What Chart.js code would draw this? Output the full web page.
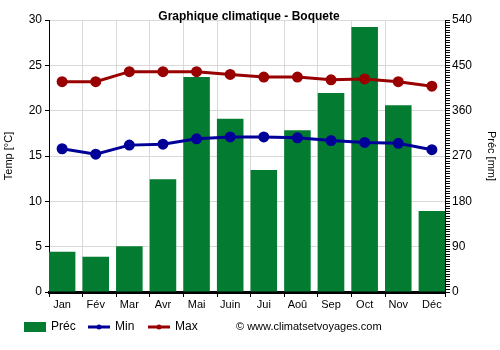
<!DOCTYPE html>
<html>
<head>
<meta charset="utf-8">
<script src="https://cdn.jsdelivr.net/npm/chart.js@4"></script>
<style>
  html, body { margin: 0; padding: 0; background: #fff; }
  #wrap { width: 500px; height: 350px; }
</style>
</head>
<body>
<div id="wrap"><canvas id="chart" width="500" height="350"></canvas></div>
<script>
  const months = ["Jan", "Fév", "Mar", "Avr", "Mai", "Juin", "Jui", "Aoû", "Sep", "Oct", "Nov", "Déc"];
  const precip = [80, 70, 91, 224, 427, 344, 242, 321, 395, 526, 371, 161];
  const tempMin = [15.8, 15.2, 16.2, 16.3, 16.9, 17.1, 17.1, 17.0, 16.7, 16.5, 16.4, 15.7];
  const tempMax = [23.2, 23.2, 24.3, 24.3, 24.3, 24.0, 23.7, 23.7, 23.4, 23.5, 23.2, 22.7];

  const FONT = "'Liberation Sans', Arial, sans-serif";
  const GREEN = "#037c32";
  const BLUE = "#000099";
  const RED = "#990000";

  // months sit on a numeric axis so the bars hug both side axes;
  // the grid axis is the same range shifted so its lines fall on each bar's left edge
  const X_PAD = 0.39;
  const X_MIN = -X_PAD;
  const X_MAX = months.length - 1 + X_PAD;

  const asPoints = (arr) => arr.map((v, i) => ({ x: i, y: v }));

  // Title, legend and site credit are drawn by hand under the plot
  const decorations = {
    id: "decorations",
    afterDraw(chart) {
      const ctx = chart.ctx;
      ctx.save();
      ctx.fillStyle = "#000";
      ctx.font = "bold 12px " + FONT;
      ctx.textAlign = "center";
      ctx.textBaseline = "middle";
      ctx.fillText("Graphique climatique - Boquete", 249, 17);

      ctx.textAlign = "left";
      ctx.font = "12px " + FONT;
      const y = 327;
      ctx.fillStyle = GREEN;
      ctx.fillRect(24, 322, 22, 10);
      ctx.fillStyle = "#000";
      ctx.fillText("Préc", 51, y);

      [[88, BLUE, "Min"], [148, RED, "Max"]].forEach(([x, col, txt]) => {
        ctx.strokeStyle = col;
        ctx.lineWidth = 3;
        ctx.beginPath();
        ctx.moveTo(x, y);
        ctx.lineTo(x + 22, y);
        ctx.stroke();
        ctx.fillStyle = col;
        ctx.beginPath();
        ctx.arc(x + 11, y, 2.5, 0, Math.PI * 2);
        ctx.fill();
        ctx.fillStyle = "#000";
        ctx.fillText(txt, x + 27, y);
      });

      ctx.font = "11px " + FONT;
      ctx.fillText("© www.climatsetvoyages.com", 236, y);
      ctx.restore();
    }
  };

  new Chart(document.getElementById("chart"), {
    data: {
      datasets: [
        {
          type: "line",
          label: "Max",
          data: asPoints(tempMax),
          xAxisID: "x",
          yAxisID: "y",
          borderColor: RED,
          backgroundColor: RED,
          borderWidth: 3,
          pointRadius: 4,
          pointHoverRadius: 4,
          tension: 0,
          order: 1
        },
        {
          type: "line",
          label: "Min",
          data: asPoints(tempMin),
          xAxisID: "x",
          yAxisID: "y",
          borderColor: BLUE,
          backgroundColor: BLUE,
          borderWidth: 3,
          pointRadius: 4,
          pointHoverRadius: 4,
          tension: 0,
          order: 2
        },
        {
          type: "bar",
          label: "Préc",
          data: asPoints(precip),
          xAxisID: "x",
          yAxisID: "y1",
          backgroundColor: GREEN,
          categoryPercentage: 1,
          barPercentage: 0.79,
          order: 3
        }
      ]
    },
    options: {
      responsive: false,
      animation: false,
      layout: { padding: { top: 20 } },
      plugins: {
        legend: { display: false },
        tooltip: { enabled: false },
        title: { display: false }
      },
      scales: {
        // grid lines, tick marks and the heavy base line
        xg: {
          type: "linear",
          position: "bottom",
          weight: 0,
          offset: false,
          min: 0,
          max: X_MAX - X_MIN,
          afterFit(s) { s.height = 5; },
          ticks: { display: false, stepSize: 1, autoSkip: false },
          grid: { offset: false, color: "#d9d9d9", tickColor: "#000", tickLength: 5 },
          border: { color: "#000", width: 3 }
        },
        // month labels
        x: {
          type: "linear",
          position: "bottom",
          weight: 1,
          offset: false,
          min: X_MIN,
          max: X_MAX,
          afterFit(s) { s.height = 53; },
          afterBuildTicks(s) { s.ticks = months.map((m, i) => ({ value: i })); },
          ticks: {
            autoSkip: false,
            color: "#000",
            font: { family: FONT, size: 11 },
            padding: 1,
            callback: (v) => months[v]
          },
          grid: { display: false, offset: false, drawTicks: false },
          border: { display: false }
        },
        y: {
          position: "left",
          min: 0,
          max: 30,
          afterFit(s) { s.width = 49; },
          ticks: { stepSize: 5, color: "#000", font: { family: FONT, size: 12 }, padding: 3 },
          grid: { color: "#d9d9d9", tickColor: "#000", tickLength: 4 },
          border: { color: "#000", width: 1 },
          title: { display: true, text: "Temp [°C]", color: "#000", font: { family: FONT, size: 11 }, padding: { top: 2, bottom: 0 } }
        },
        y1: {
          position: "right",
          min: 0,
          max: 540,
          afterFit(s) { s.width = 55; },
          ticks: {
            stepSize: 5,
            autoSkip: false,
            maxTicksLimit: 200,
            color: "#000",
            font: { family: FONT, size: 12 },
            padding: 2,
            callback: (v) => (v % 90 === 0 ? v : "")
          },
          grid: { drawOnChartArea: false, tickColor: "#000", tickLength: 5 },
          border: { color: "#000", width: 1 },
          title: { display: true, text: "Préc [mm]", color: "#000", font: { family: FONT, size: 11 }, padding: { top: 2, bottom: 0 } }
        }
      }
    },
    plugins: [decorations]
  });
</script>
</body>
</html>
